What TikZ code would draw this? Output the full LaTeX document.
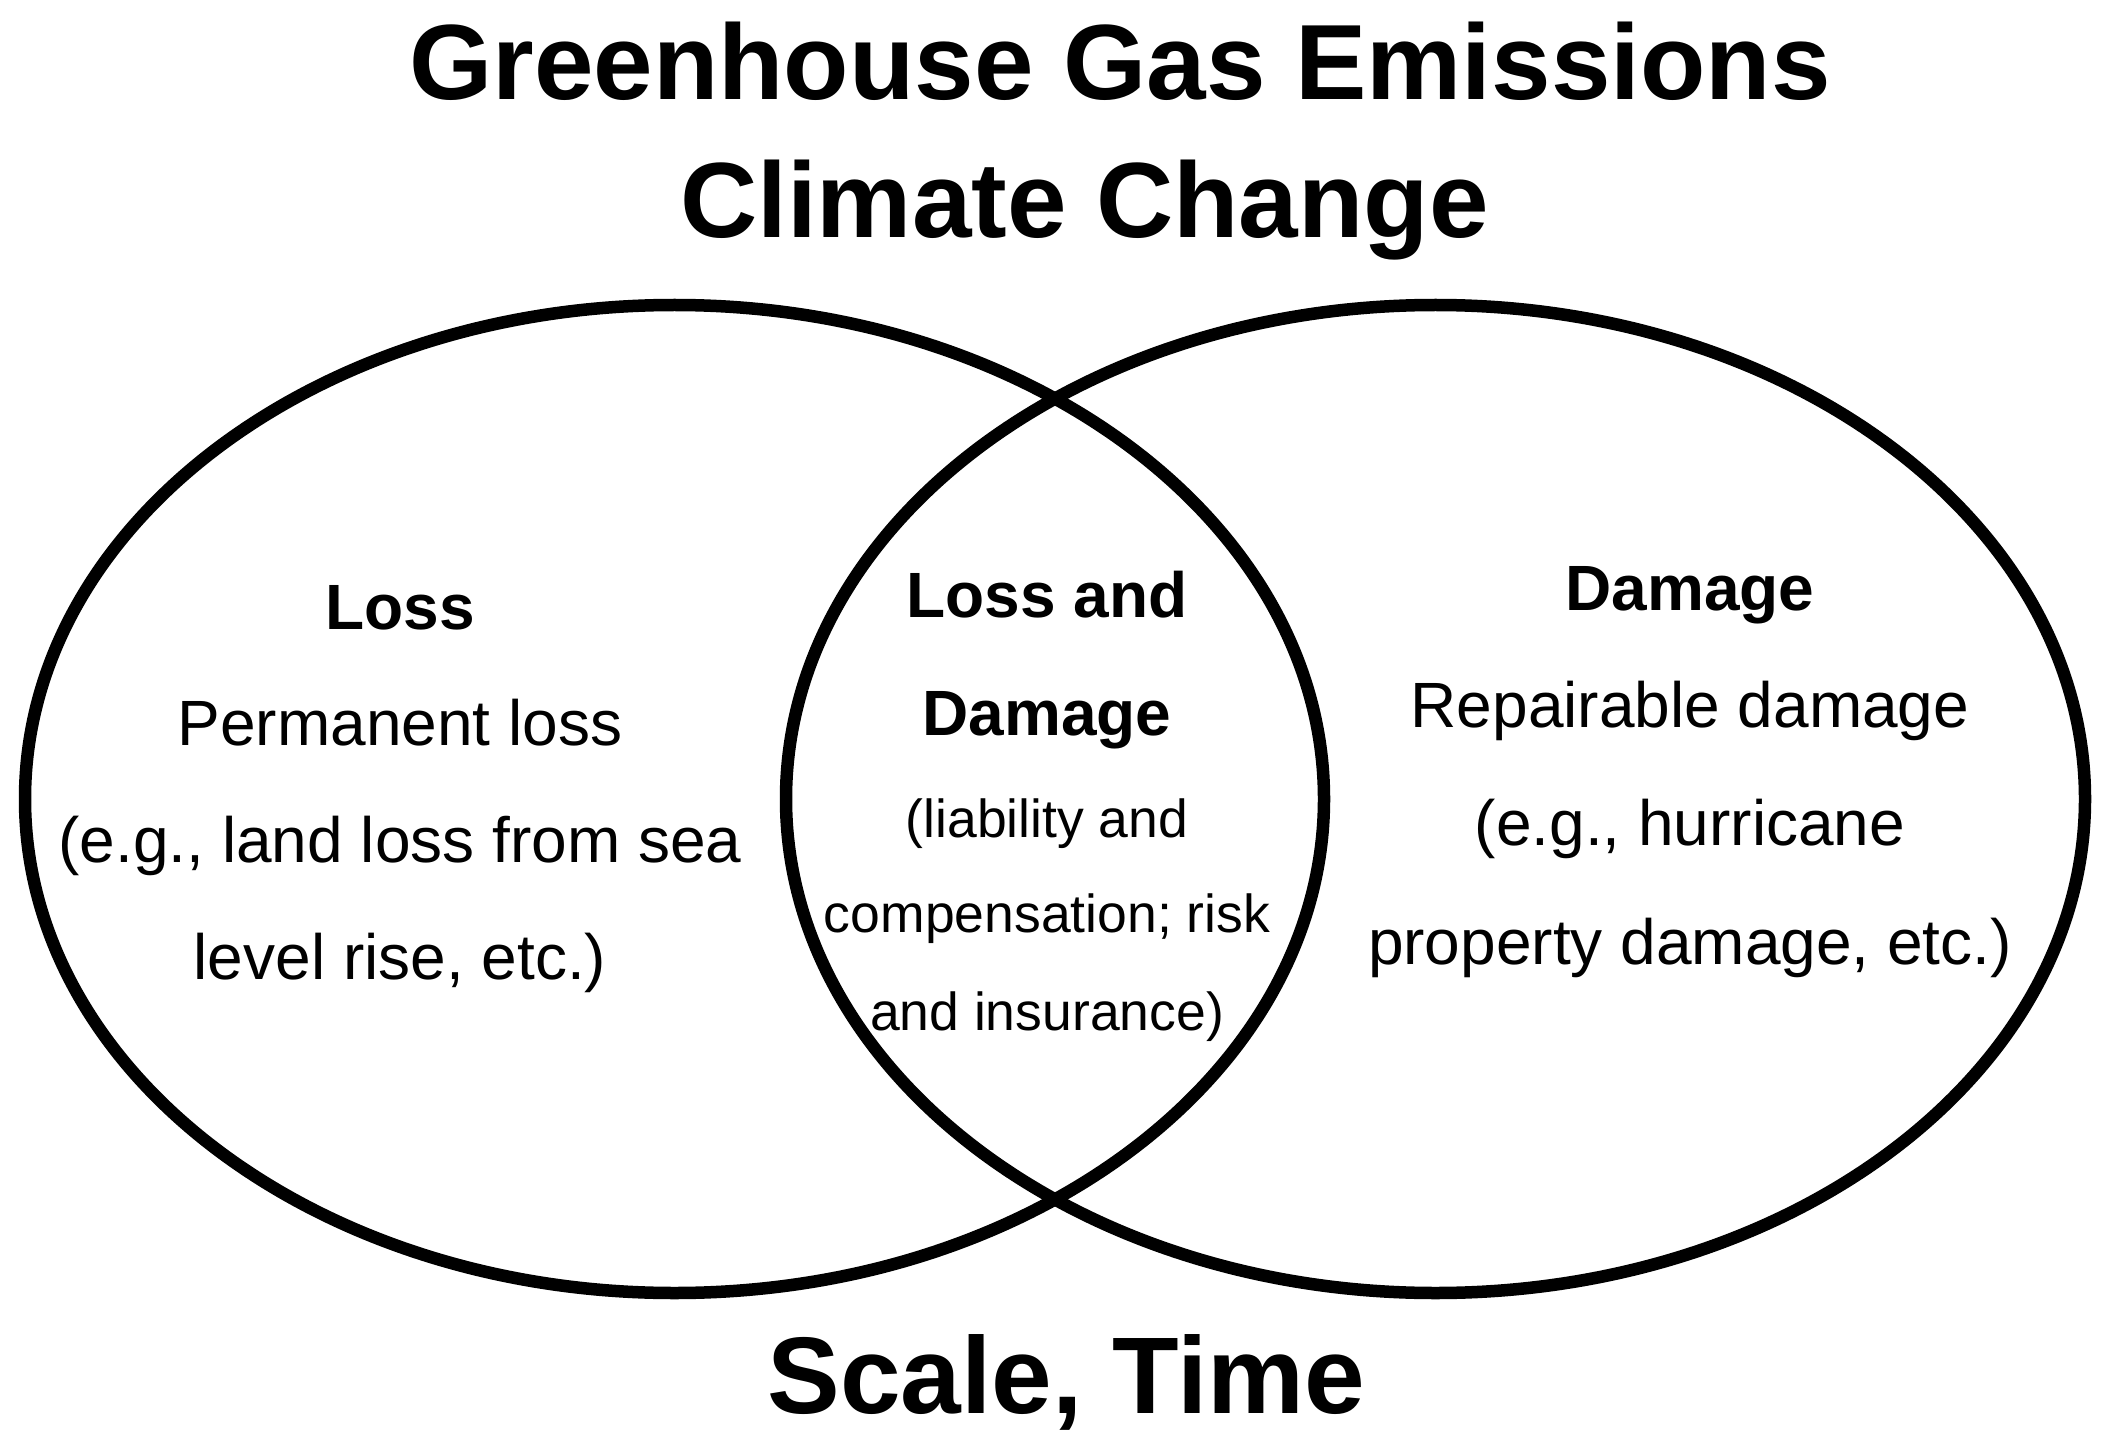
\documentclass[tikz,border=0pt]{standalone}
\usepackage{fontspec}
\setmainfont{Liberation Sans}
\begin{document}
\begin{tikzpicture}[x=0.5pt,y=-0.5pt,
  venn/.style={line width=6.25pt, draw=black},
  titletext/.style={font=\fontsize{53.5}{60}\selectfont\bfseries, anchor=base, inner sep=0pt},
  headtext/.style={font=\fontsize{32}{38}\selectfont\bfseries, anchor=base, inner sep=0pt},
  bodytext/.style={font=\fontsize{32}{38}\selectfont, anchor=base, inner sep=0pt},
  smalltext/.style={font=\fontsize{26.75}{32}\selectfont, anchor=base, inner sep=0pt}]
\useasboundingbox (0,0) rectangle (2115,1449);
% Venn ellipses
\draw[venn] (674.5,799) ellipse [x radius=324.75pt, y radius=247pt];
\draw[venn] (1435.5,799) ellipse [x radius=324.75pt, y radius=247pt];
% titles
\node[titletext] (t1) at (1120,100) {Greenhouse Gas Emissions};
\node[titletext] (t2) at (1084.5,238) {Climate Change};
\node[titletext,font=\fontsize{54.5}{60}\selectfont\bfseries] (t3) at (1066.5,1413) {Scale, Time};
% left region
\node[headtext] (l1) at (400,629) {Loss};
\node[bodytext] (l2) at (400,745) {Permanent loss};
\node[bodytext] (l3) at (400,862) {(e.g., land loss from sea};
\node[bodytext] (l4) at (400,979) {level rise, etc.)};
% middle region
\node[headtext] (m1) at (1047,617) {Loss and};
\node[headtext] (m2) at (1047,735) {Damage};
\node[smalltext] (m3) at (1047,837) {(liability and};
\node[smalltext] (m4) at (1047,932) {compensation; risk};
\node[smalltext] (m5) at (1047,1030) {and insurance)};
% right region
\node[headtext] (r1) at (1690,610) {Damage};
\node[bodytext] (r2) at (1690,727) {Repairable damage};
\node[bodytext] (r3) at (1690,845) {(e.g., hurricane};
\node[bodytext] (r4) at (1690,964) {property damage, etc.)};
\end{tikzpicture}
\end{document}
